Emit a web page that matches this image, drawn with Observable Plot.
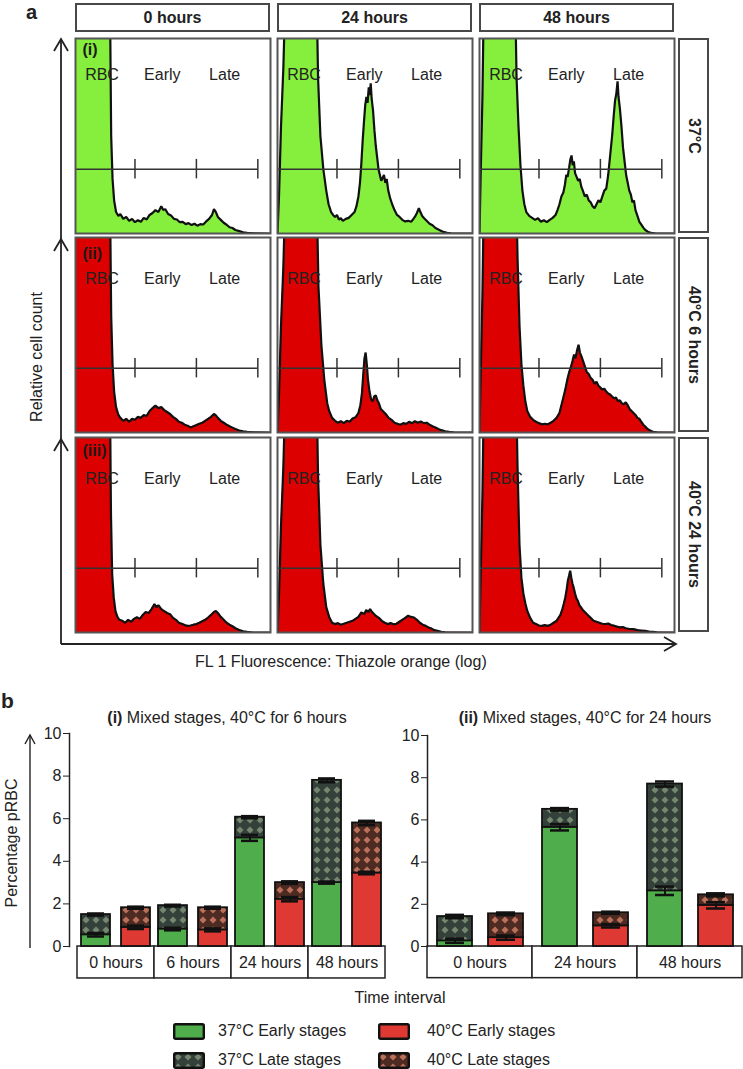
<!DOCTYPE html>
<html><head><meta charset="utf-8">
<script src="https://cdn.jsdelivr.net/npm/d3@7"></script>
<script src="https://cdn.jsdelivr.net/npm/@observablehq/plot@0.6"></script>
<style>
body{margin:0;background:#fff;font-family:"Liberation Sans",Arial,sans-serif;color:#222}
#page{position:relative;width:743px;height:1069px;overflow:hidden;background:#fff}
.hdr{position:absolute;box-sizing:border-box;border:2px solid #484848;display:flex;align-items:center;justify-content:center;font-weight:bold;font-size:16px}
.rowlab{position:absolute;box-sizing:border-box;border:2px solid #484848;display:flex;align-items:center;justify-content:center;font-weight:bold;font-size:16px;writing-mode:vertical-rl}
.txt{position:absolute;white-space:nowrap;font-size:16px;line-height:1}
.c{transform:translate(-50%,-50%)}
.l{transform:translate(0,-50%)}
</style></head><body>
<svg width="0" height="0" style="position:absolute">
<defs>
<pattern id="late37" patternUnits="userSpaceOnUse" width="10" height="10">
<rect width="10" height="10" fill="#34413a"/>
<path d="M5 1.5 L8.5 5 L5 8.5 L1.5 5Z" fill="#75876f"/>
</pattern>
<pattern id="late40" patternUnits="userSpaceOnUse" width="10" height="10">
<rect width="10" height="10" fill="#4e2b22"/>
<path d="M5 1.5 L8.5 5 L5 8.5 L1.5 5Z" fill="#bb705a"/>
</pattern>
</defs></svg>
<div id="page"></div>
<script>
// ---------- Panel a data ----------
const hours = ["0 hours", "24 hours", "48 hours"];
const conditions = ["37°C", "40°C 6 hours", "40°C 24 hours"];
const numerals = ["(i)", "(ii)", "(iii)"];
const gateLabels = ["RBC", "Early", "Late"];
const gateLabelX = [13.6, 44.5, 76.5];
const gateTicks = [30.5, 62, 93.5];
const gateLevel = 33;

// histogram outlines: [fluorescence position %, relative count %] (values >100 are clipped)
const hist37_0h = [[0,140],[17.5,140],[18.3,50],[19,28],[19.8,17],[20.8,11],[22,9],[23,10],[24.5,7.5],[26,8.5],[27.5,6.5],[29,7.5],[30.5,5.8],[32,6.8],[33.5,6],[35,8],[36.5,7.2],[38,9.5],[39.5,10.5],[41,12],[42.5,11],[44,14],[45,12],[46,12.5],[47.5,10],[49,9.2],[50.5,7.5],[52,7.2],[53.5,5.8],[55,6],[56.5,4.8],[58,5.3],[59.5,4.3],[61,5],[62.5,4],[64,4.8],[65.5,4.6],[67,6.2],[68.5,7.5],[70,9.5],[71,12.5],[72,11],[73,8.5],[74.5,7],[76,5.5],[77.5,4.5],[79,3.2],[80.5,2.8],[82,1.8],[84,1.2],[86,0.6],[88,0.3],[91,0.1],[100,0]];
const hist37_24h = [[0,0],[0.8,20],[1.8,55],[3,85],[4.5,140],[19.8,140],[20.8,80],[22,50],[23.5,33],[25,22],[26.2,15],[27.5,11],[28.5,9.5],[29.5,8.5],[30.5,9.5],[31.5,7.2],[32.5,7.8],[33.5,6.5],[35,7.5],[36.5,8],[38,9.5],[39.5,11],[40.5,14],[41.5,19],[42.3,26],[43,36],[43.7,48],[44.4,58],[45,66],[45.6,70],[46.2,67],[46.8,75],[47.3,71],[47.8,77],[48.3,69],[49,63],[49.7,53],[50.4,45],[51.1,39],[51.8,33],[52.5,30],[53.2,27],[53.9,28.5],[54.6,30],[55.3,26],[56,28],[56.8,22],[57.8,18],[58.8,15],[60,12],[61.3,9.5],[62.6,8.5],[64,7],[65.5,6.2],[67,6.5],[68.5,6],[69.5,7.2],[70.5,8.6],[71.5,10.5],[72.5,13],[73.3,11],[74.2,9],[75.2,7.8],[76.5,6.5],[78,5],[79.5,4.2],[81,2.8],[83,1.8],[85,0.8],[87,0.4],[89,0.1],[100,0]];
const hist37_48h = [[0,0],[0.6,30],[1.5,70],[2.5,140],[18,140],[19,80],[20,55],[21,35],[22,22],[23,15],[24,11],[25.5,9],[27,8],[28.5,7],[30,7.8],[31.5,6],[33,6.8],[34.5,5.8],[36,7],[37.5,8],[39,9.5],[40,12],[41,15],[42,19],[43,21],[43.8,25],[44.5,30],[45.2,29],[46,34],[46.6,38],[47.2,40],[47.8,35],[48.4,37],[49,31],[49.8,29],[50.6,27],[51.4,28],[52.2,24],[53,22],[54,19],[55,20],[56,17],[57,16],[58,14],[59,13],[60,15],[61,17],[62,16],[63,19],[64,22],[65,23],[66,30],[67,40],[68,50],[68.8,60],[69.5,68],[70.2,72],[70.8,78],[71.3,70],[72,64],[72.8,55],[73.6,44],[74.4,37],[75.2,30],[76,26],[76.8,22],[77.6,20],[78.4,16],[79.2,17],[80,12],[81,9],[82,6],[83,4.5],[84,3],[85,1.8],[86.5,0.8],[88,0.3],[90,0.1],[100,0]];
const hist40s_0h = [[0,140],[17.5,140],[18.3,60],[19,35],[19.8,21],[20.8,13],[22,9],[23,7.5],[24.5,6],[26,7],[27.5,5.5],[29,7],[30.5,6.5],[32,8],[33.5,7.5],[35,9],[36.5,8.5],[38,11],[39.5,12.5],[41,13.8],[42.5,12.5],[44,13],[45.5,11.5],[47,10.5],[48.5,9.5],[50,8],[51.5,7],[53,5.5],[54.5,5],[56,4],[57.5,3.5],[59,2.6],[60.5,3.2],[62,3.8],[63.5,4.5],[65,5],[66.5,6],[68,7],[69.5,8],[71,9.5],[72,8.8],[73,7.5],[74.5,6],[76,5],[77.5,4],[79,3.2],[80.5,2.5],[82,1.8],[84,1],[86,0.6],[88,0.3],[91,0.1],[100,0]];
const hist40s_24h = [[0,0],[0.8,20],[1.8,55],[3,85],[4.5,140],[19.8,140],[21,75],[22.5,45],[24,27],[25.5,15],[26.5,11],[28,7.5],[29.5,6],[31,5],[32.5,5.8],[34,4.8],[35.5,6],[37,5.5],[38.5,7.2],[40,7.8],[41.5,10],[42.5,14],[43.3,20],[44,30],[44.6,38],[45.2,41],[45.8,35],[46.4,27],[47.2,21],[48,17],[48.8,16],[49.6,18.5],[50.4,19],[51.2,16.5],[52,15],[53,12],[54,11],[55.5,9.5],[57,7.5],[58.5,6.5],[60,5],[61.5,4.5],[63,4],[64.5,4.8],[66,4.4],[67.5,5.5],[69,4.8],[70.5,5.8],[72,5],[73.5,5.6],[75,4.8],[76.5,5],[78,4],[79.5,3.2],[81,2.6],[82.5,1.8],[84,1.2],[86,0.6],[88,0.3],[91,0],[100,0]];
const hist40s_48h = [[0,0],[0.6,30],[1.5,70],[2.5,140],[18.5,140],[19.5,90],[20.5,55],[21.5,35],[22.5,24],[23.5,16],[24.5,11],[26,8],[27.5,6.5],[29,5.5],[30.5,4.8],[32,4.2],[33.5,4.5],[35,4.2],[36.5,5],[38,6],[39.5,7.5],[41,10],[42,14],[43,18],[44,22],[45,27],[46,31],[47,34],[47.8,37],[48.5,40],[49.2,38],[50,42],[50.8,45],[51.5,41],[52.3,39],[53,37],[54,34],[55,31],[56,30],[57,28],[58,27],[59,25],[60,26],[61,24],[62,23],[63,22],[64,22.5],[65,21],[66,20],[67,19.5],[68,18.5],[69,17.5],[70,18],[71,16],[72,16.5],[73,15],[74,14.5],[75,15.5],[76,14],[77,12],[78,11],[79,10],[80,9],[81,7.5],[82,7],[83,5.5],[84,4],[85,3],[86,2],[87.5,1],[89,0.4],[91,0.1],[100,0]];
const hist40l_0h = [[0,140],[17.5,140],[18.2,60],[18.8,30],[19.6,18],[20.5,11],[21.5,8],[22.5,6.5],[24,6],[25.5,5],[27,6.5],[28.5,5.5],[30,7],[31.5,7.8],[33,7],[34.5,9],[36,10.5],[37.5,10],[39,12],[40.5,14.6],[41.5,13],[42.5,14],[44,12],[45.5,11],[47,10],[48.5,9.4],[50,7.5],[51.5,6.5],[53,5],[54.5,4.5],[56,3.8],[57.5,3.4],[59,3.6],[60.5,4],[62,4.3],[63.5,5],[65,5.8],[66.5,6.5],[68,7.7],[69.5,9],[71,10.5],[72,11],[73,10],[74.5,8],[76,6.5],[77.5,5],[79,4],[80.5,3.2],[82,2.2],[84,1.3],[86,0.6],[88,0.3],[91,0],[100,0]];
const hist40l_24h = [[0,0],[0.8,20],[1.8,55],[3,85],[4.5,140],[19.8,140],[20.8,80],[22,45],[23.5,25],[25,13],[26.5,8],[28,5],[29.5,4.3],[31,4.8],[32.5,4],[34,4.5],[35.5,5],[37,5.5],[38.5,6],[40,7],[41.5,8],[43,10.3],[44.5,9.5],[45.5,11.5],[46.5,10.5],[47.5,12],[48.5,10.5],[49.5,9.5],[50.5,8.5],[52,7.5],[53.5,6],[55,5],[56.5,4.3],[58,4.8],[59.5,4.2],[61,4.5],[62.5,5.5],[64,6.5],[65.5,7.5],[67,8.6],[68.5,8],[70,7.7],[71.5,6.5],[73,5],[74.5,4],[76,3.4],[77.5,2.6],[79,2],[80.5,1.2],[82,0.9],[84,0.4],[86,0.1],[100,0]];
const hist40l_48h = [[0,0],[0.6,30],[1.5,70],[2.5,140],[18.5,140],[19.5,85],[20.5,45],[21.5,28],[22.5,20],[23.5,15],[24.5,11],[26,7.5],[27.5,5],[29,4.3],[30.5,3.6],[32,3.4],[33.5,3.8],[35,3.4],[36.5,4],[38,5],[39.5,6],[40.5,7.5],[41.5,9],[42.5,12],[43.3,15],[44,18],[44.7,22],[45.3,26.5],[45.9,29],[46.5,31.7],[47.1,28],[47.7,25],[48.3,23],[49,20],[49.7,17.5],[50.4,16.3],[51.2,14],[52,13],[53,11.5],[54,10.5],[55.5,9],[57,7.5],[58.5,6],[60,5.5],[61.5,5],[63,4.5],[64.5,4.3],[66,4.6],[67.5,3.8],[69,3.5],[70.5,3],[72,2.6],[73.5,2.8],[75,2.2],[77,1.8],[79,1.7],[81,1.2],[83,1],[85,0.8],[87,0.5],[89,0.3],[91,0.1],[100,0]];

// ---------- Panel b data ----------
const timesI = ["0 hours", "6 hours", "24 hours", "48 hours"];
const early37_I = [0.55, 0.82, 5.1, 3.0];
const total37_I = [1.5, 1.92, 6.07, 7.8];
const early40_I = [0.9, 0.78, 2.22, 3.45];
const total40_I = [1.82, 1.82, 3.0, 5.8];
const errEarly37_I = [0.08, 0.06, 0.14, 0.05];
const errTotal37_I = [0.05, 0.04, 0.05, 0.09];
const errEarly40_I = [0.08, 0.07, 0.1, 0.06];
const errTotal40_I = [0.05, 0.05, 0.06, 0.1];

const timesII = ["0 hours", "24 hours", "48 hours"];
const early37_II = [0.27, 5.65, 2.64];
const total37_II = [1.42, 6.5, 7.7];
const early40_II = [0.42, 0.98, 1.95];
const total40_II = [1.55, 1.6, 2.45];
const errEarly37_II = [0.1, 0.15, 0.2];
const errTotal37_II = [0.08, 0.06, 0.12];
const errEarly40_II = [0.1, 0.08, 0.15];
const errTotal40_II = [0.06, 0.05, 0.07];

const yTicks = [0, 2, 4, 6, 8, 10];
const legendItems = ["37°C Early stages", "40°C Early stages", "37°C Late stages", "40°C Late stages"];

// ---------- layout ----------
const page = document.getElementById("page");
const FONT = "'Liberation Sans', Arial, sans-serif";
function addText(html, x, y, cls, extra) {
  const d = document.createElement("div");
  d.className = "txt " + (cls || "");
  d.innerHTML = html;
  d.style.left = x + "px"; d.style.top = y + "px";
  if (extra) Object.assign(d.style, extra);
  page.appendChild(d);
  return d;
}
function place(el, x, y) {
  el.style.position = "absolute"; el.style.left = x + "px"; el.style.top = y + "px";
  page.appendChild(el);
}

const colX = [75, 277, 479];
const rowY = [38, 237, 437];
const PW = 195, PH = 195;
const histGrid = [
  [hist37_0h, hist37_24h, hist37_48h],
  [hist40s_0h, hist40s_24h, hist40s_48h],
  [hist40l_0h, hist40l_24h, hist40l_48h]
];
const rowFill = ["#86ee3c", "#dd0000", "#dd0000"];
const labelY = [81.5, 79, 79];
const numY = [94, 91.5, 93];

// headers
hours.forEach((h, i) => {
  const d = document.createElement("div");
  d.className = "hdr"; d.textContent = h;
  Object.assign(d.style, {left: colX[i] + "px", top: "3px", width: PW + "px", height: "29px"});
  page.appendChild(d);
});
conditions.forEach((c, r) => {
  const d = document.createElement("div");
  d.className = "rowlab"; d.textContent = c;
  Object.assign(d.style, {left: "678px", top: rowY[r] + "px", width: "31px", height: PH + "px"});
  page.appendChild(d);
});

for (let r = 0; r < 3; r++) {
  for (let c = 0; c < 3; c++) {
    const data = histGrid[r][c];
    const svg = Plot.plot({
      width: PW, height: PH, margin: 0,
      style: {fontFamily: FONT, background: "transparent", overflow: "visible", color: "#222"},
      x: {domain: [0, 100], axis: null},
      y: {domain: [0, 100], axis: null},
      marks: [
        Plot.areaY(data, {x: d => d[0], y: d => d[1], fill: rowFill[r], clip: true}),
        Plot.lineY(data, {x: d => d[0], y: d => d[1], stroke: "#111", strokeWidth: 2.2, strokeLinejoin: "miter", clip: true}),
        Plot.ruleY([gateLevel], {x1: 0, x2: gateTicks[2], stroke: "#333", strokeWidth: 1.5}),
        Plot.ruleX(gateTicks, {y1: gateLevel - 5, y2: gateLevel + 5, stroke: "#333", strokeWidth: 1.5}),
        Plot.text(gateLabels, {x: (d, i) => gateLabelX[i], y: labelY[r], text: d => d, fontSize: 16, fill: "#222"}),
        c === 0 ? Plot.text([numerals[r]], {x: 3.6, y: numY[r], text: d => d, textAnchor: "start", fontSize: 16, fontWeight: "bold", fill: "#1a1a1a"}) : null,
        Plot.frame({stroke: "#555", strokeWidth: 2})
      ]
    });
    place(svg, colX[c], rowY[r]);
  }
}

// axis arrows for panel a and b (decoration)
const ns = "http://www.w3.org/2000/svg";
const deco = document.createElementNS(ns, "svg");
deco.setAttribute("width", 743); deco.setAttribute("height", 1069);
deco.style.position = "absolute"; deco.style.left = "0"; deco.style.top = "0"; deco.style.pointerEvents = "none";
deco.innerHTML = `
<g fill="none" stroke="#222" stroke-width="1.8" stroke-linejoin="miter">
<path d="M61 644 L61 39"/>
<path d="M54 51 L61 39 L68 51"/><path d="M54 251 L61 239 L68 251"/><path d="M54 451 L61 439 L68 451"/>
<path d="M61 644 L676 644"/><path d="M664 637 L676 644 L664 651"/>
<path d="M30 948 L30 735" stroke-width="1.4"/><path d="M25 744 L30 735 L35 744" stroke-width="1.4"/>
</g>`;
page.appendChild(deco);

addText("a", 26, 2, "", {fontSize: "20px", fontWeight: "bold"});
addText("b", 1, 690, "", {fontSize: "21px", fontWeight: "bold"});
addText("Relative cell count", 36.5, 357, "c", {transform: "translate(-50%,-50%) rotate(-90deg)"});
addText("FL 1 Fluorescence: Thiazole orange (log)", 195, 662, "l");

// ---------- Panel b bars ----------
const fills = {"37early": "#4fae4b", "37late": "url(#late37)", "40early": "#de3a33", "40late": "url(#late40)"};
function makeBars(times, e37, t37, e40, t40, ee37, et37, ee40, et40, o) {
  const rows = [];
  times.forEach((t, i) => {
    rows.push({time: t, temp: "37", stage: "early", y1: 0, y2: e37[i], err: ee37[i]});
    rows.push({time: t, temp: "37", stage: "late", y1: e37[i], y2: t37[i], err: et37[i]});
    rows.push({time: t, temp: "40", stage: "early", y1: 0, y2: e40[i], err: ee40[i]});
    rows.push({time: t, temp: "40", stage: "late", y1: e40[i], y2: t40[i], err: et40[i]});
  });
  return Plot.plot({
    width: o.width, height: 260, marginTop: o.marginTop, marginBottom: 39,
    marginLeft: o.marginLeft, marginRight: o.marginRight,
    style: {fontFamily: FONT, fontSize: "16px", background: "transparent", overflow: "visible", color: "#222"},
    fx: {domain: times, padding: 0, axis: null},
    x: {domain: ["37", "40"], paddingInner: o.pi, paddingOuter: o.po, axis: null},
    y: {domain: [0, 10], axis: null},
    color: {type: "identity"},
    marks: [
      Plot.barY(times, {fx: d => d, y1: 0, y2: -1.5, fill: "white", stroke: "#222", strokeWidth: 1.5}),
      Plot.text(times, {fx: d => d, y: -0.76, text: d => d, fontSize: 16, fill: "#222"}),
      Plot.barY(rows, {fx: "time", x: "temp", y1: "y1", y2: "y2", fill: d => fills[d.temp + d.stage], stroke: "#111", strokeWidth: 1.8}),
      Plot.ruleX(rows, {fx: "time", x: "temp", y1: d => d.y2 - d.err, y2: d => d.y2 + d.err, stroke: "#111", strokeWidth: 2}),
      Plot.tickY(rows, {fx: "time", x: "temp", y: d => d.y2 - d.err, inset: o.cap, stroke: "#111", strokeWidth: 2.5}),
      Plot.tickY(rows, {fx: "time", x: "temp", y: d => d.y2 + d.err, inset: o.cap, stroke: "#111", strokeWidth: 2.5}),
      Plot.axisY({ticks: yTicks, tickSize: 6, tickPadding: 2, fontSize: 16, dx: o.dx, stroke: "#222"}),
      Plot.frame({anchor: "left", facetAnchor: "left", dx: o.dx, stroke: "#222", strokeWidth: 1.5})
    ]
  });
}
const barsI = makeBars(timesI, early37_I, total37_I, early40_I, total40_I, errEarly37_I, errTotal37_I, errEarly40_I, errTotal40_I,
  {width: 390, marginLeft: 76, marginRight: 4, marginTop: 8, pi: 0.27, po: 0.08, cap: 6, dx: -8});
place(barsI, 0, 725);
const barsII = makeBars(timesII, early37_II, total37_II, early40_II, total40_II, errEarly37_II, errTotal37_II, errEarly40_II, errTotal40_II,
  {width: 362, marginLeft: 47, marginRight: 0, marginTop: 10, pi: 0.32, po: 0.17, cap: 8, dx: 0});
place(barsII, 380, 725);

addText("<b>(i)</b> Mixed stages, 40°C for 6 hours", 227, 718, "c");
addText("<b>(ii)</b> Mixed stages, 40°C for 24 hours", 585, 718, "c");
addText("Percentage pRBC", 12, 843, "c", {transform: "translate(-50%,-50%) rotate(-90deg)"});
addText("Time interval", 400, 998, "c");

// legend
const legendPos = [[173, 1031], [378, 1031], [173, 1060], [378, 1060]];
const legendFill = [fills["37early"], fills["40early"], fills["37late"], fills["40late"]];
legendItems.forEach((lab, i) => {
  const [x, y] = legendPos[i];
  const s = document.createElementNS(ns, "svg");
  s.setAttribute("width", 32); s.setAttribute("height", 17);
  s.innerHTML = `<rect x="1.2" y="1.2" width="29.6" height="14.6" rx="1.5" fill="${legendFill[i]}" stroke="#111" stroke-width="2.4"/>`;
  s.style.position = "absolute"; s.style.left = x + "px"; s.style.top = (y - 8.5) + "px";
  page.appendChild(s);
  addText(lab, x + (i % 2 ? 49 : 45), y, "l");
});
</script></body></html>
